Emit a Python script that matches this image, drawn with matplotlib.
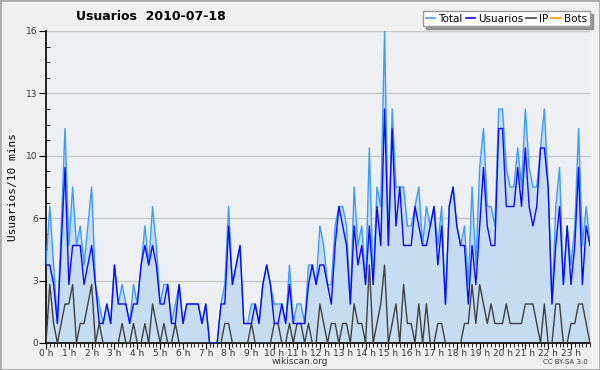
import matplotlib
matplotlib.use("Agg")
import matplotlib.pyplot as plt
from matplotlib.patches import Rectangle
from matplotlib.ticker import MultipleLocator, FixedLocator
import numpy as np

# 10-minute buckets for 2010-07-18 (144 points)
usuarios = [4, 4, 3, 1, 5, 9, 3, 5, 5, 5, 3, 4, 5, 3, 1, 1, 2, 1, 4, 2,
            2, 2, 1, 2, 2, 4, 5, 4, 5, 4, 2, 2, 3, 1, 1, 3, 1, 2, 2, 2,
            2, 1, 2, 0, 0, 0, 2, 2, 6, 3, 4, 5, 1, 1, 1, 2, 1, 3, 4, 3,
            1, 1, 2, 1, 3, 1, 1, 1, 1, 3, 4, 3, 4, 4, 3, 2, 5, 7, 6, 5,
            2, 6, 4, 5, 3, 6, 3, 7, 5, 12, 5, 11, 6, 8, 5, 5, 5, 7, 6, 5,
            5, 6, 7, 4, 6, 2, 7, 8, 6, 5, 5, 2, 5, 3, 6, 9, 6, 5, 5, 11,
            11, 7, 7, 7, 9, 7, 10, 7, 6, 7, 10, 10, 8, 2, 5, 7, 3, 6, 3, 5,
            9, 3, 6, 5]
ip = [0, 3, 1, 0, 1, 2, 2, 3, 0, 1, 1, 2, 3, 0, 1, 0, 0, 0, 0, 0,
      1, 0, 0, 1, 0, 0, 1, 0, 2, 1, 0, 1, 0, 0, 1, 0, 0, 0, 0, 0,
      0, 0, 0, 0, 0, 0, 0, 1, 1, 0, 0, 0, 0, 0, 1, 0, 0, 0, 0, 0,
      1, 1, 0, 0, 1, 0, 1, 1, 0, 1, 0, 0, 2, 1, 0, 1, 1, 0, 1, 1,
      0, 2, 1, 1, 0, 4, 0, 1, 2, 4, 0, 1, 2, 0, 3, 1, 1, 0, 2, 0,
      2, 0, 0, 1, 1, 0, 0, 0, 0, 0, 1, 1, 3, 1, 3, 2, 1, 2, 1, 1,
      1, 2, 1, 1, 1, 1, 2, 2, 2, 1, 0, 2, 0, 0, 2, 2, 0, 0, 1, 1,
      2, 2, 1, 0]
total = [4, 7, 4, 1, 6, 11, 5, 8, 5, 6, 4, 6, 8, 3, 2, 1, 2, 1, 4, 2,
         3, 2, 1, 3, 2, 4, 6, 4, 7, 5, 2, 3, 3, 1, 2, 3, 1, 2, 2, 2,
         2, 1, 2, 0, 0, 0, 2, 3, 7, 3, 4, 5, 1, 1, 2, 2, 1, 3, 4, 3,
         2, 2, 2, 1, 4, 1, 2, 2, 1, 4, 4, 3, 6, 5, 3, 3, 6, 7, 7, 6,
         2, 8, 5, 6, 3, 10, 3, 8, 7, 16, 5, 12, 8, 8, 8, 6, 6, 7, 8, 5,
         7, 6, 7, 5, 7, 2, 7, 8, 6, 5, 6, 3, 8, 4, 9, 11, 7, 7, 6, 12,
         12, 9, 8, 8, 10, 8, 12, 9, 8, 8, 10, 12, 8, 2, 7, 9, 3, 6, 4, 6,
         11, 5, 7, 5]
bots = [0] * 144

hour_labels = ["%d h" % h for h in range(24)]

c_total = "#3d9bff"
c_fill = "#c6dcf0"
c_users = "#0a0aff"
c_ip = "#404040"
c_bots = "#ff9900"

fig = plt.figure(figsize=(6, 3.7), dpi=100, facecolor="#f0f0f0")
ax = fig.add_axes([46 / 600, 1 - 343 / 370, 544 / 600, 312 / 370])
ax.set_facecolor("#edeff2")

x = np.arange(len(total))
ax.fill_between(x, total, 0, color=c_fill, lw=0, zorder=1)
ax.plot(x, bots, color=c_bots, lw=1, zorder=2)
ax.plot(x, ip, color=c_ip, lw=1, zorder=3)
ax.plot(x, total, color=c_total, lw=1, zorder=4)
ax.plot(x, usuarios, color=c_users, lw=1, zorder=5)

ax.set_xlim(0, len(total) - 1)
ax.set_ylim(0, 16)

yt = [0, 3.2, 6.4, 9.6, 12.8, 16]
ax.yaxis.set_major_locator(FixedLocator(yt))
ax.set_yticklabels(["%d" % round(v) for v in yt])
ax.yaxis.set_minor_locator(MultipleLocator(0.8))
ax.grid(axis="y", color="#c8c8c8", lw=1, zorder=0)
ax.set_axisbelow(True)

ax.set_xticks(np.arange(0, 144, 6))
ax.set_xticklabels(hour_labels)
ax.xaxis.set_minor_locator(MultipleLocator(1))

ax.tick_params(axis="both", which="major", labelsize=6.5, color="black",
               labelcolor="#333333", pad=1)
ax.tick_params(axis="y", which="major", direction="out", length=5)
ax.tick_params(axis="y", which="minor", direction="in", length=3)
ax.tick_params(axis="x", which="major", direction="out", length=4, pad=0.5)
ax.tick_params(axis="x", which="minor", direction="out", length=3)

for s in ["top", "right"]:
    ax.spines[s].set_visible(False)
ax.spines["left"].set_linewidth(1.2)
ax.spines["bottom"].set_linewidth(1.2)

ax.set_ylabel("Usuarios/10 mins", fontsize=8, family="DejaVu Sans Mono",
              labelpad=6)

fig.text(151 / 600, 1 - 17 / 370, "Usuarios  2010-07-18", fontsize=9,
         fontweight="bold", ha="center", va="center")
fig.text(300 / 600, 1 - 362 / 370, "wikiscan.org", fontsize=6.5,
         color="#333333", ha="center", va="center")
fig.text(588 / 600, 1 - 362 / 370, "CC BY-SA 3.0", fontsize=5,
         color="#333333", ha="right", va="center")

handles = [plt.Line2D([], [], color=c, lw=1.2)
           for c in [c_total, c_users, c_ip, c_bots]]
leg = fig.legend(handles, ["Total", "Usuarios", "IP", "Bots"], ncol=4,
                 loc="upper right", bbox_to_anchor=(590 / 600, 1 - 11 / 370),
                 fontsize=7.5, frameon=True, fancybox=False, shadow=True,
                 handlelength=0.9, handletextpad=0.35, columnspacing=0.25,
                 borderpad=0.25, borderaxespad=0)
leg.get_frame().set_edgecolor("#999999")
leg.get_frame().set_linewidth(1)

fig.patches.append(Rectangle((0, 0), 1, 1, transform=fig.transFigure,
                             fill=False, edgecolor="#aaaaaa", lw=2))

fig.savefig("out.png", dpi=100, facecolor=fig.get_facecolor())
